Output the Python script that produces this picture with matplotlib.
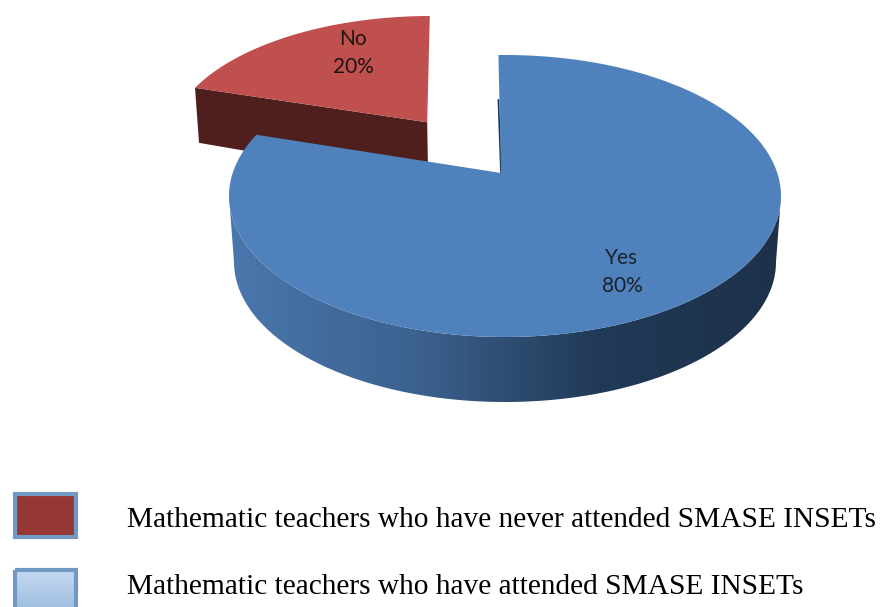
import numpy as np
import matplotlib
matplotlib.use("Agg")
import matplotlib.pyplot as plt
from matplotlib.patches import Polygon, Rectangle

labels = ["Yes", "No"]
values = [80, 20]
legend_labels = ["Mathematic teachers who have never attended SMASE INSETs",
                 "Mathematic teachers who have attended SMASE INSETs"]

BOOST = np.array([-0.0145, -0.163])  # tilt of the view, moves the apex off the ellipse centre


def project(theta):
    # perspective map of the unit circle, theta clockwise from 12 o'clock in degrees
    t = np.radians(theta)
    p = np.column_stack([np.sin(t), -np.cos(t)])
    c2 = BOOST @ BOOST
    dot = p @ BOOST
    par = np.outer(dot / c2, BOOST)
    perp = p - par
    return (BOOST + par + perp * np.sqrt(1 - c2)) / (1 + dot)[:, None]


def top_outline(start, end, cx, cy, a, b):
    # apex + rim of one slice, in pixels
    pts = project(np.linspace(start, end, 200))
    rim = np.column_stack([cx + a * pts[:, 0], cy + b * pts[:, 1]])
    apex = np.array([[cx + a * BOOST[0], cy + b * BOOST[1]]])
    return np.vstack([apex, rim])


def gradient(ax, patch, extent, colors, vertical=False, zorder=1):
    cmap = matplotlib.colors.LinearSegmentedColormap.from_list("g", colors)
    arr = np.linspace(0, 1, 256).reshape(-1, 1) if vertical else np.linspace(0, 1, 256).reshape(1, -1)
    im = ax.imshow(arr, extent=extent, cmap=cmap, aspect="auto", zorder=zorder)
    im.set_clip_path(patch)


fig = plt.figure(figsize=(8.82, 6.07), dpi=100)
ax = fig.add_axes([0, 0, 1, 1])

# slice angles come from the values, blue slice starts just left of 12 o'clock
start = -0.7
yes_end = start + 360 * values[0] / sum(values)
no_end = start + 360

# red slice, pulled out and further back
red_top = top_outline(yes_end, no_end + 1.3, 431, 143, 262, 127)
red_face = np.array([red_top[1], red_top[0], red_top[0] + [1, 60], red_top[1] + [4, 55]])
ax.add_patch(Polygon(red_face, closed=True, fc="#4f1f1d", ec="none", zorder=2))
ax.add_patch(Polygon(red_top, closed=True, fc="#c0504d", ec="none", zorder=3))

# blue side wall, front half of the rim down to the lower ellipse
tt = np.linspace(0, np.pi, 300)
upper = np.column_stack([505 + 276 * np.cos(tt), 196 + 141 * np.sin(tt)])
lower = np.column_stack([505 + 271 * np.cos(tt), 262 + 140 * np.sin(tt)])
wall = Polygon(np.vstack([upper, lower[::-1]]), closed=True, fc="none", ec="none",
               transform=ax.transData)
ax.add_patch(wall)
gradient(ax, wall, (229, 781, 607, 0), ["#4a77ad", "#3c628f", "#213a57", "#1d3149"], zorder=4)

# blue top
blue_top = top_outline(start, yes_end, 505, 196, 276, 141)
ax.plot([blue_top[1][0], blue_top[0][0]], [blue_top[1][1] + 45, blue_top[0][1]],
        color="#1d3149", lw=1.2, zorder=5)
ax.add_patch(Polygon(blue_top, closed=True, fc="#4f81bd", ec="none", zorder=6))

label_font = ["Lato", "DejaVu Sans"]
ax.text(622, 272, f"{labels[0]}\n{values[0]}%", ha="center", va="center", fontsize=15,
        family=label_font, color="#1a2230", linespacing=1.5, zorder=7)
ax.text(353, 53, f"{labels[1]}\n{values[1]}%", ha="center", va="center", fontsize=15,
        family=label_font, color="#1e1414", linespacing=1.5, zorder=7)

# legend swatches
box1 = Rectangle((15, 494), 61, 43, fc="#953735", ec="#7199c4", lw=3, zorder=3)
ax.add_patch(box1)
box2 = Rectangle((15, 570), 61, 43, fc="none", ec="none", zorder=2)
ax.add_patch(box2)
gradient(ax, box2, (15, 76, 613, 570), ["#c6daf2", "#9bbbdf"], vertical=True, zorder=2)
ax.add_patch(Rectangle((15, 570), 61, 43, fc="none", ec="#7199c4", lw=3, zorder=3))

ax.text(127, 520, legend_labels[0], ha="left", va="center", fontsize=21.2,
        family="Liberation Serif", color="black")
ax.text(127, 587, legend_labels[1], ha="left", va="center", fontsize=21.2,
        family="Liberation Serif", color="black")

ax.set_xlim(0, 882)
ax.set_ylim(607, 0)
ax.axis("off")
fig.savefig("out.png", dpi=100, facecolor="white")
